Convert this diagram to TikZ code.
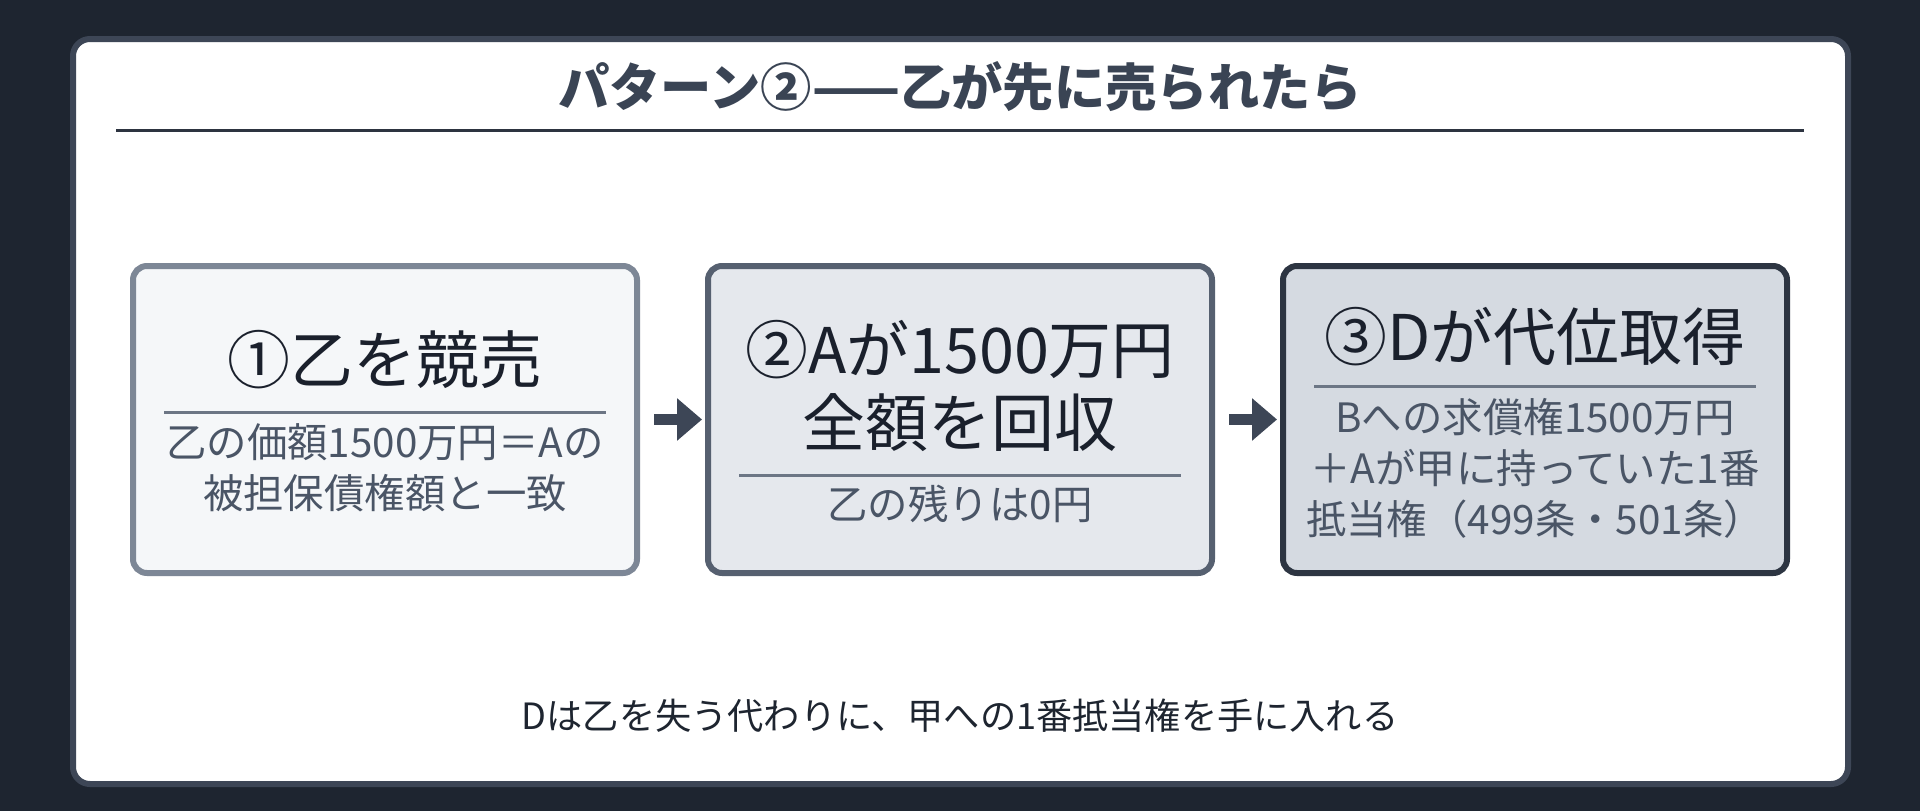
\documentclass[tikz,border=0pt]{standalone}
\usepackage{fontspec}
\setmainfont{Noto Sans CJK JP}
\usetikzlibrary{arrows.meta}

\definecolor{pagebg}{HTML}{1E2530}
\definecolor{cardline}{HTML}{3D4656}
\definecolor{headink}{HTML}{3A4454}
\definecolor{headrule}{HTML}{2D3440}
\definecolor{saleFill}{HTML}{F5F7F9}
\definecolor{saleLine}{HTML}{7D8796}
\definecolor{collectFill}{HTML}{E5E8ED}
\definecolor{collectLine}{HTML}{566070}
\definecolor{subroFill}{HTML}{D5DAE1}
\definecolor{subroLine}{HTML}{2D3542}
\definecolor{titleink}{HTML}{1A202C}
\definecolor{noteink}{HTML}{4A5566}
\definecolor{ruleink}{HTML}{6C7685}
\definecolor{arrowink}{HTML}{3D4656}

\tikzset{
  stepbox/.style={draw, line width=0.06cm, rounded corners=0.14cm,
    minimum width=5.04cm, minimum height=3.07cm, inner sep=0pt},
  steptitle/.style={text=titleink, align=center, inner sep=0pt,
    font=\fontsize{17.9pt}{21pt}\selectfont},
  stepnote/.style={text=noteink, align=center, inner sep=0pt,
    font=\fontsize{11.5pt}{14.5pt}\selectfont},
  steprule/.style={draw=ruleink, line width=0.03cm},
  flowarrow/.style={draw=arrowink, line width=0.11cm,
    -{Triangle[length=0.25cm,width=0.41cm]}}
}

\begin{document}
\begin{tikzpicture}
\useasboundingbox (0,0) rectangle (19.2,-8.11);
\fill[pagebg] (0,0) rectangle (19.2,-8.11);

% card
\draw[cardline, fill=white, line width=0.06cm, rounded corners=0.17cm] (0.73,-0.39) rectangle (18.48,-7.84);
\node[text=headink, font=\fontsize{14.6pt}{17pt}\selectfont\bfseries] (head) at (9.6,-0.87) {パターン②——乙が先に売られたら};
\draw[headrule, line width=0.03cm] (1.16,-1.30) -- (18.04,-1.30);

% three steps
\node[stepbox, fill=saleFill, draw=saleLine] (sale) at (3.85,-4.195) {};
\node[stepbox, fill=collectFill, draw=collectLine] (collect) at (9.60,-4.195) {};
\node[stepbox, fill=subroFill, draw=subroLine] (subro) at (15.35,-4.195) {};

\node[steptitle] (saleT) at (3.85,-3.60) {①乙を競売};
\draw[steprule] (1.64,-4.12) -- (6.06,-4.12);
\node[stepnote] (saleN) at (3.85,-4.675) {乙の価額1500万円＝Aの\\被担保債権額と一致};

\node[steptitle] (collectT) at (9.60,-3.86) {②Aが1500万円\\全額を回収};
\draw[steprule] (7.39,-4.756) -- (11.81,-4.756);
\node[stepnote] (collectN) at (9.60,-5.04) {乙の残りは0円};

\node[steptitle] (subroT) at (15.35,-3.37) {③Dが代位取得};
\draw[steprule] (13.14,-3.865) -- (17.56,-3.865);
\node[stepnote] (subroN) at (15.35,-4.68) {Bへの求償権1500万円\\＋Aが甲に持っていた1番\\抵当権（499条・501条）};

% arrows
\draw[flowarrow] ([xshift=0.14cm]sale.east) -- ([xshift=-0.03cm]collect.west);
\draw[flowarrow] ([xshift=0.14cm]collect.east) -- ([xshift=-0.03cm]subro.west);

\node[text=pagebg, font=\fontsize{10.3pt}{12pt}\selectfont] (moral) at (9.6,-7.16) {Dは乙を失う代わりに、甲への1番抵当権を手に入れる};
\end{tikzpicture}
\end{document}
